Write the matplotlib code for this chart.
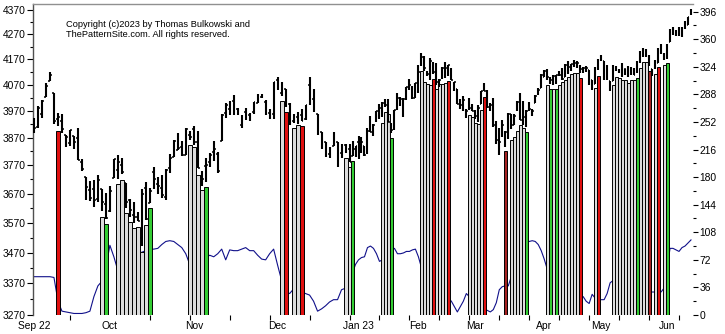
import numpy as np
import pandas as pd
import matplotlib
matplotlib.use("Agg")
import matplotlib.pyplot as plt
from matplotlib.ticker import FixedLocator, NullFormatter, FixedFormatter

# ---------------- data ----------------
holidays = ["2022-11-24", "2022-12-26", "2023-01-02", "2023-01-16",
            "2023-02-20", "2023-04-07", "2023-05-29"]
dates = pd.bdate_range("2022-09-06", "2023-06-13")
dates = dates[~dates.isin(pd.to_datetime(holidays))]

opens = [3931,3909,3960,4023,4084,4037,3941,3932,3880,3850,3875,3871,3782,3727,3683,3686,3652,3687,3633,
         3610,3726,3753,3772,3707,3648,3596,3591,3520,3690,3639,3746,3703,3689,3657,3762,3799,3826,3835,3808,3882,
         3902,3853,3733,3767,3781,3817,3811,3860,3964,3978,4006,3977,3919,3966,3956,3966,4000,4023,4005,3964,3957,
         4087,4040,4052,3997,3933,3948,3954,3939,4069,4016,3958,3891,3854,3810,3839,3853,3815,3843,3830,3805,3829,
         3853,3840,3840,3823,3911,3889,3932,3978,3961,3999,4002,3912,3909,3978,4002,3983,4036,4054,4049,4021,
         4070,4159,4137,4120,4105,4153,4144,4069,4097,4127,4120,4115,4077,4052,4002,4019,3973,3992,3977,
         3963,3939,3998,4055,4048,3988,3999,3913,3835,3894,3877,3879,3959,3917,3976,4002,3959,3939,3983,3974,4000,4047,4056,
         4102,4128,4095,4081,4085,4110,4122,4100,4140,4137,4164,4139,4130,4132,4132,4126,4088,4075,4130,
         4167,4164,4122,4083,4085,4137,4124,4144,4132,4139,4127,4128,4123,4158,4204,4191,4177,4133,4156,4156,4227,4191,
         4183,4241,4283,4271,4285,4269,4305,4308,4353]
highs = [3943,3988,4011,4077,4119,4037,3962,3959,3881,3900,3876,3907,3791,3727,3716,3718,3737,3687,3671,
         3698,3792,3807,3798,3707,3652,3641,3608,3685,3712,3690,3763,3729,3736,3758,3811,3863,3886,3860,3905,3894,
         3912,3894,3751,3796,3814,3859,3818,3958,4001,4009,4029,3983,3954,3980,3962,4003,4034,4034,4012,3977,4080,
         4101,4080,4052,4002,3958,3967,3977,3991,4101,4054,3958,3891,3855,3838,3890,3853,3846,3847,3848,3858,3840,
         3878,3873,3840,3906,3951,3920,3970,3998,4004,4015,4014,3923,3973,4039,4024,4020,4062,4094,4064,4077,
         4149,4195,4182,4125,4177,4161,4156,4094,4139,4160,4148,4137,4082,4052,4017,4028,3978,4018,3998,
         3972,3991,4048,4078,4050,4000,4018,3934,3905,3937,3894,3964,3959,3957,4009,4039,4008,3973,4004,3979,4031,4058,4111,
         4128,4133,4100,4107,4110,4124,4134,4150,4163,4152,4169,4163,4149,4138,4142,4126,4090,4138,4170,
         4187,4164,4148,4083,4147,4142,4130,4154,4133,4144,4141,4136,4165,4202,4213,4209,4186,4133,4166,4213,4231,4195,
         4232,4291,4299,4288,4299,4298,4323,4340,4375]
lows = [3887,3906,3945,4023,4084,3922,3912,3888,3837,3839,3828,3789,3749,3647,3645,3623,3641,3610,3584,
        3605,3726,3723,3739,3621,3588,3568,3574,3492,3580,3639,3687,3667,3656,3647,3742,3799,3824,3804,3808,3863,
        3844,3759,3698,3709,3765,3786,3744,3860,3945,3956,3953,3954,3907,3936,3933,3957,3999,4021,3956,3938,3939,
        4051,4027,3984,3918,3923,3922,3933,3935,3993,3966,3879,3828,3800,3796,3839,3764,3797,3813,3781,3805,3800,
        3794,3816,3802,3810,3890,3877,3929,3938,3948,3985,3927,3886,3898,3972,3990,3949,4013,4049,4016,4020,
        4037,4142,4123,4104,4088,4112,4070,4061,4093,4095,4104,4089,4048,3995,3977,3969,3943,3974,3969,
        3939,3928,3995,4045,3980,3970,3909,3846,3809,3874,3838,3864,3901,3917,3971,3936,3919,3909,3970,3952,4000,4032,4056,
        4099,4087,4073,4070,4073,4103,4087,4099,4113,4123,4140,4134,4115,4114,4118,4071,4049,4075,4127,
        4164,4090,4089,4048,4085,4124,4117,4099,4109,4099,4110,4110,4114,4154,4180,4180,4143,4104,4130,4156,4192,4166,
        4172,4241,4267,4263,4264,4261,4292,4307,4349]
closes = [3908,3980,4006,4067,4110,3933,3946,3901,3873,3900,3856,3790,3758,3693,3655,3647,3719,3640,3586,
          3678,3791,3783,3745,3640,3612,3589,3577,3670,3583,3678,3720,3695,3666,3753,3797,3859,3831,3807,3901,3872,
          3856,3760,3720,3771,3807,3828,3749,3956,3993,3957,3992,3959,3947,3965,3950,4004,4027,4026,3964,3958,4080,
          4077,4072,3999,3941,3934,3964,3934,3991,4020,3995,3896,3852,3818,3822,3878,3822,3845,3829,3783,3849,3840,
          3824,3853,3808,3895,3892,3919,3970,3983,3999,3991,3929,3899,3973,4020,4017,4016,4060,4071,4018,4077,
          4119,4180,4136,4111,4164,4118,4082,4090,4137,4136,4148,4090,4079,3997,3991,4012,3970,3982,3970,
          3951,3981,4046,4048,3986,3992,3918,3862,3856,3919,3892,3960,3917,3952,4003,3937,3949,3971,3978,3971,4028,4051,4109,
          4125,4101,4090,4105,4109,4109,4092,4146,4138,4151,4155,4155,4130,4134,4137,4072,4056,4135,4169,
          4168,4119,4091,4061,4136,4138,4119,4138,4131,4124,4136,4110,4159,4198,4192,4193,4146,4115,4151,4205,4206,4180,
          4221,4282,4274,4284,4268,4294,4299,4339,4369]

# highlighted days: n = gray, g = green, r = red, d = dark red
hl_idx = [6, 17, 18, 21, 22, 23, 24, 25, 26, 27, 28, 29, 39, 40, 41, 42, 43,
          62, 63, 65, 66, 67, 78, 79, 80, 90, 91, 92, 93,
          103, 104, 105, 106, 107, 108, 109, 110, 111, 112,
          119, 120, 121, 122, 123, 124, 131, 133, 134, 135, 136, 137, 138,
          145, 146, 147, 148, 149, 150, 151, 152, 153, 154, 155, 156, 161, 162,
          167, 168, 169, 170, 171, 172, 173, 174, 175, 176, 177, 178, 179, 181, 182, 184, 185]
hl_kind = list("rngnnnnnnnng" "nnnng" "nrnnrnngnnng" "nnnnrnnnnr" "nnnnnrd" "nnnnng"
               "ngngnnnnnnnr" "nr" "nnnnnnnngnnnd" "nr" "ng")
hl_top = [3895, 3590, 3565, 3703, 3718, 3603, 3572, 3552, 3555, 3473, 3561, 3619,
          3844, 3838, 3736, 3681, 3692,
          4008, 3965, 3905, 3918, 3914, 3795, 3765, 3787, 3926, 3967, 3960, 3868,
          4125, 4082, 4075, 4070, 4091, 4052, 4072, 4075, 4078, 4085,
          3955, 3946, 3924, 3921, 3974, 4024, 3822, 3862, 3874, 3895, 3917, 3905, 3890,
          4069, 4052, 4052, 4052, 4069, 4082, 4089, 4101, 4112, 4117, 4115, 4095, 4056, 4104,
          4068, 4101, 4098, 4088, 4088, 4076, 4088, 4088, 4095, 4135, 4160, 4160, 4125,
          4112, 4138, 4146, 4154]

# blue indicator line (right axis)
indicator = [50, 50, 50, 50, 50, 49, 18, 5, 4, 3, 2, 2, 2, 3, 5, 24, 38, 44, 62,
             91, 76, 58, 62, 70, 74, 78, 80, 82, 84, 86, 86, 87, 92, 96, 97, 96, 92, 88, 80, 66,
             62, 64, 70, 75, 78, 76, 80, 86, 72, 85, 84, 84, 86, 88, 84, 84, 78, 73, 72, 80, 86,
             65, 45, 30, 28, 34, 34, 30, 28, 26, 18, 5, 8, 12, 17, 20, 20, 33, 35, 45, 55, 66,
             72, 75, 76, 88, 90, 87, 80, 70, 72, 78, 82, 85, 87, 80, 80, 81, 83, 83, 85, 86,
             76, 62, 55, 50, 45, 40, 36, 32, 28, 25, 22, 18, 11, 4, 11, 18, 28, 24, 20,
             16, 12, 9, 8, 6, 4, 7, 16, 33, 37, 38, 38, 50, 60, 70, 80, 90, 95, 96, 97, 96, 92, 84,
             73, 60, 50, 45, 40, 38, 36, 34, 32, 30, 28, 26, 25, 24, 18, 15, 27, 22, 20,
             20, 20, 28, 42, 45, 44, 42, 40, 38, 36, 34, 33, 32, 31, 30, 30, 30, 30, 30, 30, 30, 35,
             60, 87, 87, 85, 83, 88, 90, 94, 98]

price_ticks = list(range(3270, 4371, 100))
right_ticks = list(range(0, 397, 36))

# ---------------- figure ----------------
plt.rcParams['font.family'] = ['Liberation Sans', 'DejaVu Sans']
fig = plt.figure(figsize=(7.25, 3.34), dpi=100)
fig.patch.set_facecolor('white')
ax = fig.add_axes([33/725, 19/334, 660/725, 311/334])

# trading-day axis: the source packs early bars 4 px apart, later ones 3 px apart
BREAK = 79
def fwd(i):
    i = np.asarray(i, dtype=float)
    return np.where(i < BREAK, 4.0 * i, 4.0 * BREAK + 3.0 * (i - BREAK))
def inv(f):
    f = np.asarray(f, dtype=float)
    return np.where(f < 4.0 * BREAK, f / 4.0, BREAK + (f - 4.0 * BREAK) / 3.0)
ax.set_xscale('function', functions=(fwd, inv))

ax2 = ax.twinx()
ax2.set_xscale('function', functions=(fwd, inv))

n = len(closes)
x = np.arange(n)

# indicator line behind the price axes
ax2.plot(x, indicator, color='#10108a', lw=0.8, zorder=1)
ax.set_zorder(ax2.get_zorder() + 1)
ax.patch.set_visible(False)

color_map = {'n': '#dcdcdc', 'g': '#33cc33', 'r': '#e01010', 'd': '#a52222'}
base = 3270
ax.bar(hl_idx, np.array(hl_top) - base, bottom=base, width=1.0,
       color=[color_map[k] for k in hl_kind], edgecolor='black', linewidth=0.7, zorder=2)

# OHLC bars
ax.vlines(x, lows, highs, color='black', lw=1.5, zorder=3)
ax.hlines(opens, x - 0.45, x, color='black', lw=1.1, zorder=3)
ax.hlines(closes, x, x + 0.45, color='black', lw=1.1, zorder=3)

# axes ranges
ax.set_yscale('log')
ax.set_ylim(3270, 4395)
ax.set_xlim(-0.25, 193.67)
ax2.set_ylim(0, 406)

# left axis ticks
ax.yaxis.set_major_locator(FixedLocator(price_ticks))
ax.yaxis.set_minor_locator(FixedLocator([t + 50 for t in price_ticks[:-1]]))
ax.yaxis.set_major_formatter(FixedFormatter([str(t) for t in price_ticks]))
ax.yaxis.set_minor_formatter(NullFormatter())
ax.tick_params(axis='y', which='major', length=4, width=0.8, pad=1.5, labelsize=7.4, direction='out', colors='black')
ax.tick_params(axis='y', which='minor', length=2.5, width=0.8)

# right axis ticks
ax2.yaxis.set_major_locator(FixedLocator(right_ticks))
ax2.yaxis.set_minor_locator(FixedLocator([t + 18 for t in right_ticks[:-1]]))
ax2.yaxis.set_minor_formatter(NullFormatter())
ax2.tick_params(axis='y', which='major', length=3.5, width=0.8, pad=1.0, labelsize=7.4, direction='out')
ax2.tick_params(axis='y', which='minor', length=2, width=0.8)

# x axis: month labels at first trading day of each month, small ticks every 10 days
months = pd.Series(dates.to_period('M'))
first_idx = [int(i) for i in months.index[months != months.shift(1)]]
month_labels = []
for i in first_idx:
    d = dates[i]
    if i == 0 or d.month == 1:
        month_labels.append(d.strftime('%b %y'))
    else:
        month_labels.append(d.strftime('%b'))
ax.set_xticks(first_idx)
ax.set_xticklabels(month_labels)
ax.xaxis.set_minor_locator(FixedLocator(list(range(9, n, 10))))
ax.tick_params(axis='x', which='major', length=0, pad=4.3, labelsize=7.4)
ax.tick_params(axis='x', which='minor', length=3.5, width=0.8)

for side in ['right', 'bottom']:
    ax.spines[side].set_visible(False)
ax.spines['left'].set_color('#505050')
ax.spines['left'].set_linewidth(1.0)
ax.spines['top'].set_color('#909090')
ax.spines['top'].set_linewidth(1.0)
for s in ax2.spines.values():
    s.set_visible(False)

fig.text(65.7/725, 1 - 29.5/334,
         "Copyright (c)2023 by Thomas Bulkowski and\nThePatternSite.com. All rights reserved.",
         fontsize=6.7, va='center', ha='left', linespacing=1.05)

fig.savefig('out.png', dpi=100, facecolor='white')
